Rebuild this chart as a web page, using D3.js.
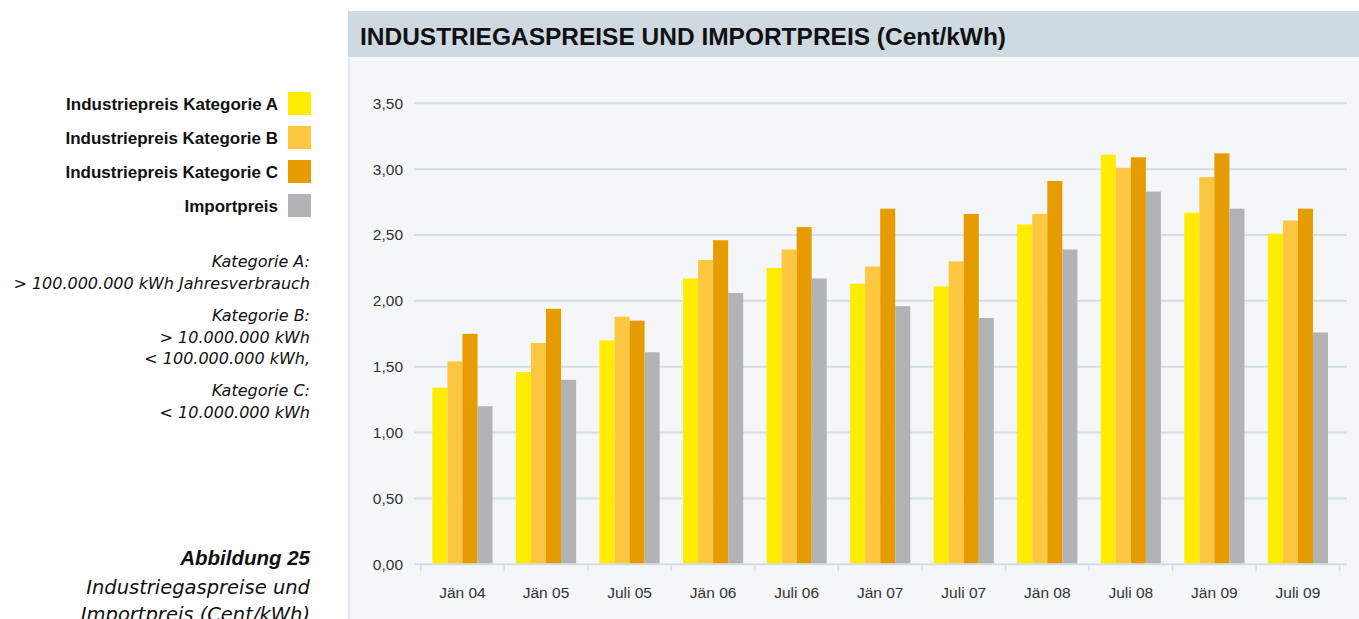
<!DOCTYPE html>
<html>
<head>
<meta charset="utf-8">
<script src="https://cdn.jsdelivr.net/npm/d3@7"></script>
<style>
body { margin: 0; background: #fff; }
svg { display: block; }
</style>
</head>
<body>
<div id="graph"></div>
<script>
// chart data
var categories = ["Jän 04", "Jän 05", "Juli 05", "Jän 06", "Juli 06", "Jän 07", "Juli 07", "Jän 08", "Juli 08", "Jän 09", "Juli 09"];
var seriesNames = ["Industriepreis Kategorie A", "Industriepreis Kategorie B", "Industriepreis Kategorie C", "Importpreis"];
var katA = [1.34, 1.46, 1.70, 2.17, 2.25, 2.13, 2.11, 2.58, 3.11, 2.67, 2.51];
var katB = [1.54, 1.68, 1.88, 2.31, 2.39, 2.26, 2.30, 2.66, 3.01, 2.94, 2.61];
var katC = [1.75, 1.94, 1.85, 2.46, 2.56, 2.70, 2.66, 2.91, 3.09, 3.12, 2.70];
var importpreis = [1.20, 1.40, 1.61, 2.06, 2.17, 1.96, 1.87, 2.39, 2.83, 2.70, 1.76];
var yTicks = [0, 0.5, 1, 1.5, 2, 2.5, 3, 3.5];
var colors = ["#ffec00", "#fdc741", "#e69c00", "#b2b3b4"];
var notes = [
	["Kategorie A:", "> 100.000.000 kWh Jahresverbrauch"],
	["Kategorie B:", "> 10.000.000 kWh", "< 100.000.000 kWh,"],
	["Kategorie C:", "< 10.000.000 kWh"]
];

var w = 1359, h = 619;
var svg = d3.select("div#graph").append("svg")
	.attr("width", w)
	.attr("height", h);

var seriesValues = [katA, katB, katC, importpreis];
var data = categories.map(function(c, i) {
	return {cat: c, values: seriesValues.map(function(s, j) { return {series: j, value: s[i]}; })};
});

// panel + title band
svg.append("rect").attr("x", 348).attr("y", 57).attr("width", w - 348).attr("height", h - 57)
	.attr("fill", "#f4f6f8");
svg.append("line").attr("x1", 349).attr("x2", 349).attr("y1", 57).attr("y2", h)
	.attr("stroke", "#dce2e9").attr("stroke-width", 1.5);
svg.append("rect").attr("x", 348).attr("y", 11).attr("width", w - 348).attr("height", 46)
	.attr("fill", "#cfd9e2");
svg.append("text")
	.attr("x", 360).attr("y", 45)
	.attr("font-family", "'Liberation Sans Narrow', 'Liberation Sans', sans-serif")
	.attr("font-weight", "bold")
	.attr("font-size", 24)
	.attr("fill", "#111")
	.attr("textLength", 646).attr("lengthAdjust", "spacingAndGlyphs")
	.text("INDUSTRIEGASPREISE UND IMPORTPREIS (Cent/kWh)");

// scales
var left = 414, right = 1347, x0Start = 420.7, x0End = 1339.7;
var y = d3.scaleLinear().domain([0, 3.5]).range([564.3, 103.3]);
var x0 = d3.scaleBand().domain(categories).range([x0Start, x0End]);
var bw = x0.bandwidth();
var x1 = d3.scaleBand().domain(d3.range(seriesNames.length)).range([bw * 0.14, bw * 0.86]);

var locale = d3.formatLocale({decimal: ",", thousands: ".", grouping: [3], currency: ["", " €"]});
var fmt = locale.format(".2f");

// grid lines
svg.append("g").selectAll("line").data(yTicks.slice(1)).enter().append("line")
	.attr("x1", left).attr("x2", right)
	.attr("y1", function(d) { return y(d); }).attr("y2", function(d) { return y(d); })
	.attr("stroke", "#d5dde6").attr("stroke-width", 2);

// y axis labels
var yAxis = svg.append("g")
	.attr("transform", "translate(" + left + ",0)")
	.call(d3.axisLeft(y).tickValues(yTicks).tickFormat(fmt).tickSize(0).tickPadding(11));
yAxis.select(".domain").remove();
yAxis.selectAll("text")
	.attr("font-family", "'Liberation Sans', sans-serif")
	.attr("font-size", 15.5)
	.attr("fill", "#333");

// bars
var groups = svg.append("g").selectAll("g").data(data).enter().append("g")
	.attr("transform", function(d) { return "translate(" + x0(d.cat) + ",0)"; });
groups.selectAll("rect").data(function(d) { return d.values; }).enter().append("rect")
	.attr("x", function(d) { return x1(d.series); })
	.attr("width", x1.bandwidth())
	.attr("y", function(d) { return y(d.value); })
	.attr("height", function(d) { return y(0) - y(d.value); })
	.attr("fill", function(d) { return colors[d.series]; });

// x axis
svg.append("line").attr("x1", left).attr("x2", right).attr("y1", y(0)).attr("y2", y(0))
	.attr("stroke", "#d5dde6").attr("stroke-width", 2);
var tickPos = categories.map(function(c) { return x0(c); }).concat([x0End]);
svg.append("g").selectAll("line").data(tickPos).enter().append("line")
	.attr("x1", function(d) { return d; }).attr("x2", function(d) { return d; })
	.attr("y1", y(0)).attr("y2", y(0) + 7)
	.attr("stroke", "#d5dde6").attr("stroke-width", 1.5);
svg.append("g").selectAll("text").data(categories).enter().append("text")
	.attr("x", function(d) { return x0(d) + bw / 2; })
	.attr("y", 598)
	.attr("text-anchor", "middle")
	.attr("font-family", "'Liberation Sans', sans-serif")
	.attr("font-size", 15.5)
	.attr("fill", "#333")
	.text(function(d) { return d; });

// legend
var legend = svg.append("g").selectAll("g").data(seriesNames).enter().append("g")
	.attr("transform", function(d, i) { return "translate(0," + (92 + i * 34) + ")"; });
legend.append("rect").attr("x", 288).attr("width", 23).attr("height", 23)
	.attr("fill", function(d, i) { return colors[i]; });
legend.append("text")
	.attr("x", 278).attr("y", 18)
	.attr("text-anchor", "end")
	.attr("font-family", "'Liberation Sans', sans-serif")
	.attr("font-weight", "bold")
	.attr("font-size", 17)
	.attr("fill", "#111")
	.text(function(d) { return d; });

// notes
var noteY = [267, 321, 396];
notes.forEach(function(lines, k) {
	lines.forEach(function(t, j) {
		svg.append("text")
			.attr("x", 310).attr("y", noteY[k] + j * 21.5)
			.attr("text-anchor", "end")
			.attr("font-family", "'DejaVu Sans', sans-serif")
			.attr("font-style", "italic")
			.attr("font-size", 16)
			.attr("fill", "#111")
			.text(t);
	});
});

// caption
svg.append("text").attr("x", 310).attr("y", 565).attr("text-anchor", "end")
	.attr("font-family", "'Liberation Sans', sans-serif")
	.attr("font-style", "italic").attr("font-weight", "bold").attr("font-size", 20.5)
	.attr("fill", "#111").text("Abbildung 25");
svg.append("text").attr("x", 310).attr("y", 594).attr("text-anchor", "end")
	.attr("font-family", "'DejaVu Sans', sans-serif")
	.attr("font-style", "italic").attr("font-size", 19.5)
	.attr("fill", "#111").text("Industriegaspreise und");
svg.append("text").attr("x", 310).attr("y", 621).attr("text-anchor", "end")
	.attr("font-family", "'DejaVu Sans', sans-serif")
	.attr("font-style", "italic").attr("font-size", 19.5)
	.attr("fill", "#111").text("Importpreis (Cent/kWh)");
</script>
</body>
</html>
